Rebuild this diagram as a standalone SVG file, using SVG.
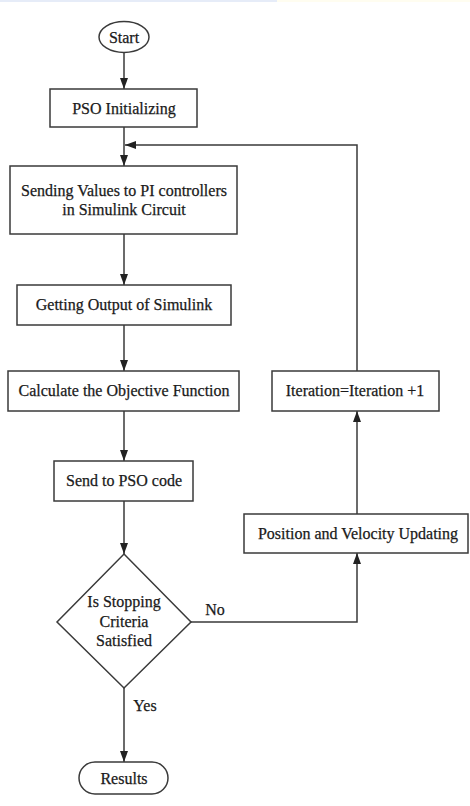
<svg xmlns="http://www.w3.org/2000/svg" width="470" height="806" viewBox="0 0 470 806">
<style>
.n{fill:#fff;stroke:#3a3a3a;stroke-width:1.5}
.c{fill:none;stroke:#3a3a3a;stroke-width:1.5}
text{font-family:"Liberation Serif","Times New Roman",serif;font-size:16px;fill:#1a1a1a;stroke:#1a1a1a;stroke-width:0.25;text-anchor:middle;dominant-baseline:central}
</style>
<defs>
<marker id="a" viewBox="0 0 10 10" refX="10" refY="5" markerWidth="11" markerHeight="8" markerUnits="userSpaceOnUse" orient="auto" preserveAspectRatio="none">
<path d="M0,0 L10,5 L0,10 z" fill="#222"/>
</marker>
</defs>
<rect x="0" y="0" width="277" height="2" fill="#e6ecf8"/>
<rect x="277" y="0" width="193" height="2" fill="#fffdf0"/>
<g id="connectors">
<line class="c" x1="124" y1="53" x2="124" y2="89" marker-end="url(#a)"/>
<line class="c" x1="124" y1="127" x2="124" y2="166" marker-end="url(#a)"/>
<polyline class="c" points="357,371 357,145 125,145" marker-end="url(#a)"/>
<line class="c" x1="124" y1="234" x2="124" y2="285" marker-end="url(#a)"/>
<line class="c" x1="124" y1="325" x2="124" y2="371" marker-end="url(#a)"/>
<line class="c" x1="124" y1="411" x2="124" y2="461" marker-end="url(#a)"/>
<line class="c" x1="124" y1="501" x2="124" y2="554" marker-end="url(#a)"/>
<line class="c" x1="357" y1="514" x2="357" y2="411" marker-end="url(#a)"/>
<polyline class="c" points="191,622 357,622 357,553" marker-end="url(#a)"/>
<line class="c" x1="124" y1="688" x2="124" y2="762" marker-end="url(#a)"/>
<text x="215" y="609">No</text>
<text x="145" y="705">Yes</text>
</g>
<g id="start">
<ellipse class="n" cx="124" cy="37" rx="25" ry="15.5"/>
<text x="124" y="37">Start</text>
</g>
<g id="pso-init">
<rect class="n" x="50" y="89" width="147" height="38"/>
<text x="124" y="108">PSO Initializing</text>
</g>
<g id="sending">
<rect class="n" x="10" y="166" width="227" height="68"/>
<text x="124" y="190">Sending Values to PI controllers</text>
<text x="124" y="209">in Simulink Circuit</text>
</g>
<g id="getting">
<rect class="n" x="17" y="285" width="214" height="40"/>
<text x="124" y="304">Getting Output of Simulink</text>
</g>
<g id="calculate">
<rect class="n" x="8" y="371" width="231" height="40"/>
<text x="124" y="390.5">Calculate the Objective Function</text>
</g>
<g id="send-pso">
<rect class="n" x="54" y="461" width="139" height="40"/>
<text x="124" y="480.5">Send to PSO code</text>
</g>
<g id="decision">
<polygon class="n" points="124,554 191,622 124,688 57,622"/>
<text x="124" y="601.5">Is Stopping</text>
<text x="124" y="621">Criteria</text>
<text x="124" y="640">Satisfied</text>
</g>
<g id="results">
<rect class="n" x="79" y="762" width="89" height="32" rx="16"/>
<text x="124" y="778">Results</text>
</g>
<g id="iteration">
<rect class="n" x="272" y="371" width="167" height="40"/>
<text x="355" y="390.5">Iteration=Iteration +1</text>
</g>
<g id="position">
<rect class="n" x="244" y="514" width="224" height="39"/>
<text x="358" y="533.5">Position and Velocity Updating</text>
</g>
</svg>
